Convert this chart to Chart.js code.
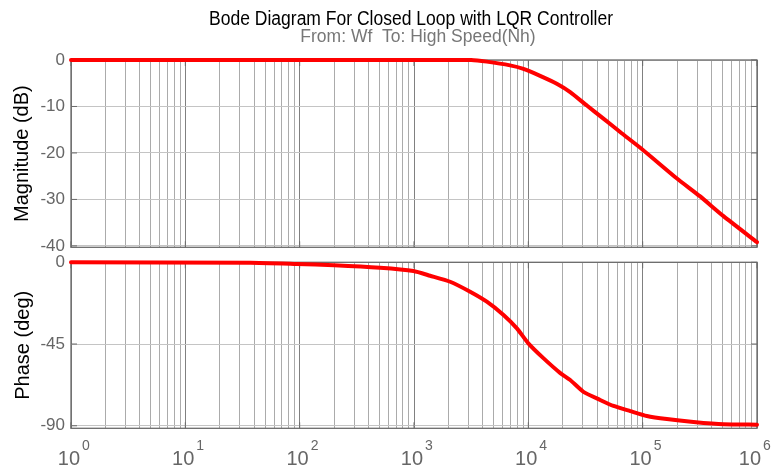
<!DOCTYPE html>
<html>
<head>
<meta charset="utf-8">
<script src="https://cdn.jsdelivr.net/npm/chart.js@4.4.0/dist/chart.umd.min.js"></script>
<style>
html,body{margin:0;padding:0;background:#fff}
#wrap{position:relative;width:772px;height:470px}
#magBox{position:absolute;left:0;top:0;width:772px;height:252px}
#phaseBox{position:absolute;left:0;top:252px;width:772px;height:218px}
</style>
</head>
<body>
<div id="wrap">
  <div id="magBox"><canvas id="magChart"></canvas></div>
  <div id="phaseBox"><canvas id="phaseChart"></canvas></div>
</div>
<script>
// ---- data ----
var titleText = 'Bode Diagram For Closed Loop with LQR Controller';
var subTitleText = 'From: Wf  To: High Speed(Nh)';
var magLabel = 'Magnitude (dB)';
var phaseLabel = 'Phase (deg)';

var magFreq = [1, 1000, 3162, 4335, 6918, 9057, 12680, 17740, 23230, 32510, 45390, 63530, 100000, 199500, 316200, 509300, 1000000];
var magDb   = [0, 0, 0, -0.35, -1.15, -1.9, -3.4, -5.1, -6.9, -9.8, -12.6, -15.5, -19.3, -25.5, -29.3, -33.6, -39.2];

var phaseFreq = [1, 37, 94, 200, 505, 989, 1384, 2070, 3097, 4335, 6067, 7943, 10000, 13610, 19050, 23230, 30340, 42460, 55590, 77800, 108900, 162900, 278600, 509300, 1000000];
var phaseDeg  = [0, -0.2, -0.9, -1.6, -3.0, -4.8, -7.4, -10.7, -16.2, -21.7, -29, -36.4, -44.6, -52.9, -61.0, -64.8, -71.3, -75.8, -79.1, -81.9, -84.6, -86.3, -87.9, -89.2, -89.4];

var magTicks = [0, -10, -20, -30, -40];
var phaseTicks = [0, -45, -90];
var decades = [0, 1, 2, 3, 4, 5, 6];

// ---- helpers ----
var FONT = "'Liberation Sans', Arial, sans-serif";
var RED = '#ff0000';

function toPoints(xs, ys){
  return xs.map(function(x, i){ return {x: x, y: ys[i]}; });
}

// grid positions: 1..9 x 10^k
var gridFreqs = [];
decades.forEach(function(k){
  if(k === decades[decades.length-1]){ gridFreqs.push(Math.pow(10, k)); return; }
  for(var m=1;m<=9;m++) gridFreqs.push(m*Math.pow(10, k));
});

function isDecade(v){
  var l = Math.log10(v);
  return Math.abs(l - Math.round(l)) < 1e-9;
}

function xScale(){
  return {
    type: 'logarithmic', min: 1, max: 1e6,
    afterBuildTicks: function(s){ s.ticks = gridFreqs.map(function(v){ return {value: v}; }); },
    afterFit: function(s){ s.height = 0; s.paddingLeft = 0; s.paddingRight = 0; },
    ticks: {display: false},
    grid: {
      color: function(c){ return (c.tick && isDecade(c.tick.value)) ? '#808080' : '#ababab'; },
      lineWidth: 1, drawTicks: false
    },
    border: {display: false}
  };
}

function yScale(min, tickVals){
  return {
    min: min, max: 0,
    afterBuildTicks: function(s){ s.ticks = tickVals.map(function(v){ return {value: v}; }); },
    afterFit: function(s){ s.width = 71; s.paddingTop = 0; s.paddingBottom = 0; },
    ticks: {color: '#666', font: {family: FONT, size: 17}, padding: 6},
    grid: {color: '#c4c4c4', lineWidth: 1, drawTicks: false},
    border: {display: false}
  };
}

// frame + inward ticks, drawn under the line
var framePlugin = {
  id: 'frame',
  beforeDatasetsDraw: function(chart){
    var a = chart.chartArea, c = chart.ctx;
    c.save();
    c.strokeStyle = '#6a6a6a';
    c.lineWidth = 1.3;
    c.strokeRect(a.left, a.top, a.right - a.left, a.bottom - a.top);
    c.lineWidth = 1;
    chart.scales.y.ticks.forEach(function(t){
      var y = chart.scales.y.getPixelForValue(t.value);
      c.beginPath();
      c.moveTo(a.left, y); c.lineTo(a.left + 6, y);
      c.moveTo(a.right, y); c.lineTo(a.right - 6, y);
      c.stroke();
    });
    decades.forEach(function(k){
      var x = chart.scales.x.getPixelForValue(Math.pow(10, k));
      c.beginPath();
      c.moveTo(x, a.bottom); c.lineTo(x, a.bottom - 6);
      c.moveTo(x, a.top); c.lineTo(x, a.top + 6);
      c.stroke();
    });
    c.restore();
  }
};

function drawYLabel(chart, text, baseX){
  var a = chart.chartArea, c = chart.ctx;
  c.save();
  c.translate(baseX, (a.top + a.bottom) / 2);
  c.rotate(-Math.PI / 2);
  c.fillStyle = '#000';
  c.font = '20px ' + FONT;
  c.textAlign = 'center';
  c.textBaseline = 'alphabetic';
  c.fillText(text, 0, 0);
  c.restore();
}

var magText = {
  id: 'magText',
  afterDraw: function(chart){
    var c = chart.ctx;
    c.save();
    // title, slightly condensed like the original
    c.font = '19.5px ' + FONT;
    var w = c.measureText(titleText).width;
    c.translate(411, 25);
    c.scale(404 / w, 1);
    c.fillStyle = '#000';
    c.textAlign = 'center';
    c.textBaseline = 'alphabetic';
    c.fillText(titleText, 0, 0);
    c.restore();

    c.save();
    c.font = '17.5px ' + FONT;
    c.fillStyle = '#777';
    c.textAlign = 'center';
    c.textBaseline = 'alphabetic';
    c.fillText(subTitleText, 418, 42);
    c.restore();

    drawYLabel(chart, magLabel, 28);
  }
};

var phaseText = {
  id: 'phaseText',
  afterDraw: function(chart){
    drawYLabel(chart, phaseLabel, 29);
    var c = chart.ctx, xs = chart.scales.x, a = chart.chartArea;
    c.save();
    c.fillStyle = '#666';
    c.textBaseline = 'alphabetic';
    decades.forEach(function(k){
      var x = xs.getPixelForValue(Math.pow(10, k));
      var right = x + 9;
      if(right + 11 > chart.width) right = chart.width - 11;
      c.font = '20px ' + FONT;
      c.textAlign = 'right';
      c.fillText('10', right, a.bottom + 37);
      c.font = '14px ' + FONT;
      c.textAlign = 'left';
      c.fillText(String(k), right + 2, a.bottom + 22);
    });
    c.restore();
  }
};

function lineDataset(label, pts){
  return {
    label: label, data: pts,
    borderColor: RED, backgroundColor: RED,
    borderWidth: 4, pointRadius: 0, tension: 0.2, clip: false,
    borderJoinStyle: 'round', borderCapStyle: 'round'
  };
}

Chart.defaults.animation = false;

new Chart(document.getElementById('magChart'), {
  type: 'line',
  data: {datasets: [lineDataset('Magnitude', toPoints(magFreq, magDb))]},
  options: {
    responsive: true, maintainAspectRatio: false,
    parsing: false,
    layout: {padding: {top: 60, right: 15, bottom: 4.7, left: 0}},
    plugins: {legend: {display: false}, tooltip: {enabled: false}},
    scales: {x: xScale(), y: yScale(-40.3, magTicks)}
  },
  plugins: [framePlugin, magText]
});

new Chart(document.getElementById('phaseChart'), {
  type: 'line',
  data: {datasets: [lineDataset('Phase', toPoints(phaseFreq, phaseDeg))]},
  options: {
    responsive: true, maintainAspectRatio: false,
    parsing: false,
    layout: {padding: {top: 10.3, right: 15, bottom: 41.7, left: 0}},
    plugins: {legend: {display: false}, tooltip: {enabled: false}},
    scales: {x: xScale(), y: yScale(-91.4, phaseTicks)}
  },
  plugins: [framePlugin, phaseText]
});
</script>
</body>
</html>
